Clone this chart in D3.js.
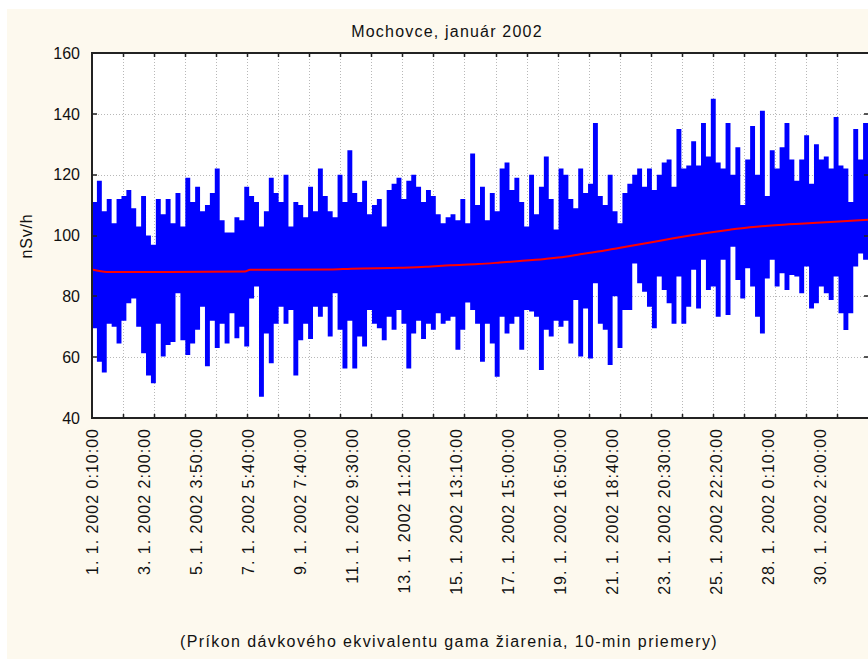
<html>
<script src='https://d3js.org/d3.v7.min.js'></script>
<style>
  body {margin: 0; background: white;}
  text {font-family: 'Liberation Sans', Arial, sans-serif; fill: #111;}
  .grid line {stroke: #b8b8b8; stroke-dasharray: 1,2;}
</style>
<body>
<svg id="chart" width=868 height=659></svg>
<script>
// 10-min averages, envelope per ~5px slice (max and min of the slice)
var hiVals = [111,118,108,112,104,112,113,115,109,103,113,100,97,112,107,112,104,114,103,119,111,116,108,110,114,122,105,101,101,106,105,116,113,111,103,108,119,114,111,
  120,103,111,110,106,116,108,122,113,108,106,120,111,128,114,111,118,107,110,112,103,115,117,119,112,118,120,116,111,115,113,107,104,106,107,105,112,104,127,110,
  116,105,114,108,122,124,115,119,111,103,120,107,116,126,112,102,122,120,112,109,122,114,117,137,113,110,120,108,104,114,117,120,122,116,122,115,120,124,125,
  116,135,122,123,131,123,137,126,145,124,122,137,120,129,110,125,136,120,141,113,128,122,129,137,125,118,125,133,117,130,125,126,122,139,123,122,111,135,125,137];
var loVals = [69.5,58.5,55,71,70,64.5,72,77.7,79.3,70,61.3,54,51.4,71,60.2,64,65,81,65.6,60.7,64.5,69,76.6,57,72,63,71,64.5,74.4,66.2,70,63.5,79.3,83.2,47,67.8,58,71,76.6,
  71,75.5,54,65.6,71,66,76.6,73.3,76.6,66.8,81,69,56.3,72,56.3,66.8,63.5,75.5,71,69.5,65.6,73.3,69,75.5,71,56.3,67.8,72,66,71,69,74.4,71,72,73.3,62.4,69,78,75.5,71,
  58.5,71,64.5,53.6,73.3,67.8,71,73.3,62.4,75.5,75,73.3,55.8,69,66.8,72,70,72,64.5,78.8,60.2,76,59.6,84.3,71,69,57.4,80,63,75.5,75.5,90.8,84.3,81.5,76.6,69.5,86.5,82.1,77.7,
  71,86.5,71,76.6,88.7,76,92,82.1,83.2,73.3,92,73.9,96.3,85.4,79.3,89.2,83.2,73.3,67.8,85.9,92,83.2,87.6,82.1,87,86.5,81,89.8,76,77.7,83.2,81,78.8,86.5,74.4,68.9,74.4,89.8,94.1,92];

// smoothed trend (red), case number -> nSv/h
var trendCase = [0,86,449,880,909,1369,1490,1771,1921,2059,2220,2346,2461,2605,2720,2807,2922,3037,3152,3267,3336,3439,3554,3669,3784,3928,4072,4273,4463];
var trendVal = [88.8,88.0,88.0,88.2,88.7,88.8,89.1,89.4,89.7,90.2,90.6,91.1,91.6,92.3,93.0,93.8,94.8,96.0,97.1,98.3,99.0,100.0,101.0,101.9,102.7,103.4,103.9,104.5,105.2];

var nCases = 4463;
var yTicks = [40,60,80,100,120,140,160];
var xLabels = ["1. 1. 2002 0:10:00","3. 1. 2002 2:00:00","5. 1. 2002 3:50:00","7. 1. 2002 5:40:00","9. 1. 2002 7:40:00",
  "11. 1. 2002 9:30:00","13. 1. 2002 11:20:00","15. 1. 2002 13:10:00","17. 1. 2002 15:00:00","19. 1. 2002 16:50:00",
  "21. 1. 2002 18:40:00","23. 1. 2002 20:30:00","25. 1. 2002 22:20:00","28. 1. 2002 0:10:00","30. 1. 2002 2:00:00"];
var labelStep = 299;

var svg = d3.select("#chart");
var L = 92, R = 868, T = 53, B = 418;
var x = d3.scaleLinear().domain([0, nCases]).range([L, R]);
var y = d3.scaleLinear().domain([40, 160]).range([B, T]);

svg.append("rect").attr("x", 7).attr("y", 9).attr("width", 861).attr("height", 650).attr("fill", "#fdf9ee");
svg.append("rect").attr("x", L).attr("y", T).attr("width", R - L).attr("height", B - T).attr("fill", "white");

// grid
var gx = d3.range(1, 25).map(function(i) { return nCases * i / 25; });
var grid = svg.append("g").attr("class", "grid");
grid.selectAll(".v").data(gx).enter().append("line")
  .attr("x1", function(d) { return Math.round(x(d)) + 0.5; }).attr("x2", function(d) { return Math.round(x(d)) + 0.5; })
  .attr("y1", T).attr("y2", B);
grid.selectAll(".h").data(yTicks.slice(1, -1)).enter().append("line")
  .attr("x1", L).attr("x2", R)
  .attr("y1", function(d) { return Math.round(y(d)) + 0.5; }).attr("y2", function(d) { return Math.round(y(d)) + 0.5; });

// blue series
var binW = nCases / hiVals.length;
var bins = hiVals.map(function(h, i) { return {c: i * binW, hi: h, lo: loVals[i]}; });
bins.push({c: nCases, hi: hiVals[hiVals.length - 1], lo: loVals[loVals.length - 1]});
svg.append("path").datum(bins)
  .attr("fill", "#0000ff")
  .attr("d", d3.area().curve(d3.curveStepAfter)
    .x(function(d) { return x(d.c); })
    .y0(function(d) { return y(d.lo); })
    .y1(function(d) { return y(d.hi); }));

// red trend
svg.append("path").datum(trendCase)
  .attr("fill", "none").attr("stroke", "#ff0000").attr("stroke-width", 2)
  .attr("d", d3.line().curve(d3.curveMonotoneX)
    .x(function(d) { return x(d); })
    .y(function(d, i) { return y(trendVal[i]); }));

// frame + ticks
svg.append("path").attr("fill", "none").attr("stroke", "#222").attr("stroke-width", 2)
  .attr("d", "M" + (R + 1) + "," + T + "H" + L + "V" + B + "H" + (R + 1));
svg.selectAll(".yt").data(yTicks).enter().append("path")
  .attr("stroke", "#222").attr("stroke-width", 1.5)
  .attr("d", function(d) { var yy = Math.round(y(d)); return "M" + L + "," + yy + "h5M" + (R - 4) + "," + yy + "h4"; });
svg.selectAll(".xt").data(gx).enter().append("path")
  .attr("stroke", "#222").attr("stroke-width", 1.5)
  .attr("d", function(d) { var xx = Math.round(x(d)) + 0.5; return "M" + xx + "," + B + "v-4M" + xx + "," + T + "v4"; });

svg.selectAll(".yl").data(yTicks).enter().append("text")
  .attr("x", 80).attr("y", function(d) { return y(d); }).attr("dy", "0.36em")
  .attr("text-anchor", "end").style("font-size", "16px")
  .text(function(d) { return d; });

svg.selectAll(".xl").data(xLabels).enter().append("text")
  .attr("transform", function(d, i) { return "translate(" + x(i * labelStep) + ",428) rotate(-90)"; })
  .attr("dy", "0.36em").attr("text-anchor", "end")
  .style("font-size", "16px").style("letter-spacing", "1px")
  .text(function(d) { return d; });

svg.append("text").attr("x", 447).attr("y", 37).attr("text-anchor", "middle")
  .style("font-size", "16px").style("letter-spacing", "1.2px").text("Mochovce, január 2002");
svg.append("text").attr("transform", "translate(26,236) rotate(-90)").attr("dy", "0.36em")
  .attr("text-anchor", "middle").style("font-size", "16px").style("letter-spacing", "0.8px").text("nSv/h");
svg.append("text").attr("x", 449).attr("y", 647).attr("text-anchor", "middle")
  .style("font-size", "16px").style("letter-spacing", "1.4px")
  .text("(Príkon dávkového ekvivalentu gama žiarenia, 10-min priemery)");
</script>
</body>
</html>
